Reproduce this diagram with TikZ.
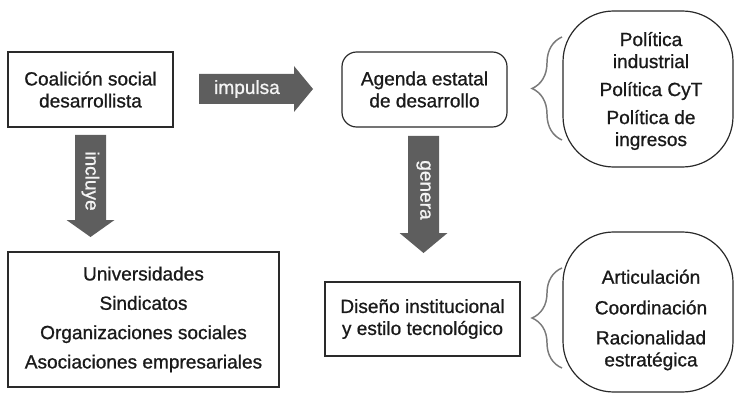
\documentclass[tikz,border=0pt]{standalone}
\usepackage{fontspec}
\setmainfont{Liberation Sans}[FakeBold=0.9]
\newfontfamily\medfont{Liberation Sans}[FakeBold=0.9]
\usetikzlibrary{decorations.pathreplacing}
\definecolor{txt}{HTML}{1A1A1A}
\definecolor{bord}{HTML}{2A2A2A}
\definecolor{arr}{HTML}{5E5E5E}
\definecolor{brc}{HTML}{7A7A7A}
\definecolor{arrtxt}{HTML}{F4F4F4}
\begin{document}
\begin{tikzpicture}[x=0.75pt,y=-0.75pt,
  font=\medfont\fontsize{14.3}{16.5}\selectfont, text=txt,
  box/.style={draw=bord, line width=0.9pt, align=center, inner sep=0pt},
  rbox/.style={box, rounded corners=11pt},
  bigr/.style={box, rounded corners=38pt},
  arrowfill/.style={fill=arr, draw=none},
  arrlabel/.style={text=arrtxt, inner sep=0pt},
  bracestyle/.style={draw=brc, line width=1.1pt, decorate, decoration={brace, amplitude=22.5pt, aspect=0.5}},
  plain/.style={align=center, inner sep=0pt}
]
\useasboundingbox (0,0) rectangle (734,395);

% boxes
\node[box, minimum width=123.75pt, minimum height=56.25pt] (coal) at (90.5,89.5) {Coalición social\\desarrollista};
\node[rbox, minimum width=123.75pt, minimum height=56.25pt] (agenda) at (424.5,89.5) {Agenda estatal\\de desarrollo};
\node[box, minimum width=203.25pt, minimum height=101.25pt] (univ) at (143.5,319.5) {Universidades\\[5.5pt]Sindicatos\\[5.5pt]Organizaciones sociales\\[5.5pt]Asociaciones empresariales};
\node[box, minimum width=146.25pt, minimum height=55.5pt] (diseno) at (422.5,319) {Diseño institucional\\y estilo tecnológico};

% big rounded boxes
\node[bigr, minimum width=127.5pt, minimum height=117pt] (pol) at (648,89) {};
\node[plain] (polt) at (651,91) {Política\\industrial\\[4.5pt]Política CyT\\[4.5pt]Política de\\ingresos};
\node[bigr, minimum width=127.5pt, minimum height=120pt] (art) at (648,312) {};
\node[plain] (artt) at (651,320) {Articulación\\[6.5pt]Coordinación\\[6pt]Racionalidad\\estratégica};

% braces
\coordinate (b1s) at (562,140);
\coordinate (b1e) at (562,37);
\coordinate (b2s) at (562,368);
\coordinate (b2e) at (562,268);
\draw[bracestyle] (b1s) -- (b1e);
\draw[bracestyle] (b2s) -- (b2e);

% block arrows
\fill[arrowfill] (199,74) -- (294,74) -- (294,66) -- (313,89) -- (294,112) -- (294,104) -- (199,104) -- cycle;
\node[arrlabel] (impulsa) at (247,89) {impulsa};

\fill[arrowfill] (75,135) -- (106,135) -- (106,220) -- (114.5,220) -- (90.5,237) -- (66.5,220) -- (75,220) -- cycle;
\node[arrlabel, rotate=-90] (incluye) at (90.5,181) {incluye};

\fill[arrowfill] (408,136) -- (439,136) -- (439,233) -- (447.5,233) -- (423.5,253) -- (399.5,233) -- (408,233) -- cycle;
\node[arrlabel, rotate=-90] (genera) at (423.5,190) {genera};
\end{tikzpicture}
\end{document}
